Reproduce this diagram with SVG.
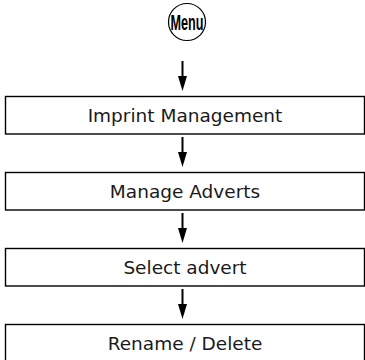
<svg xmlns="http://www.w3.org/2000/svg" width="365" height="360" viewBox="0 0 365 360">
<defs>
<style>
.box{fill:#fff;stroke:#000;stroke-width:1.4}
.lbl{font-family:"DejaVu Sans",sans-serif;font-size:18.5px;fill:#1a1a1a;text-anchor:middle}
.conn line{stroke:#000;stroke-width:2}
.conn path{fill:#000}
.menu{font-family:"Liberation Sans",Arial,sans-serif;font-weight:bold;font-size:22px;fill:#000;text-anchor:middle}
</style>
</defs>
<rect width="365" height="360" fill="#fff"/>
<g id="menu">
<circle cx="187" cy="22" r="18.5" fill="#fff" stroke="#000" stroke-width="1.2"/>
<text class="menu" x="187" y="30" textLength="33" lengthAdjust="spacingAndGlyphs">Menu</text>
</g>
<g class="conn" id="connectors">
<line x1="182.5" y1="61" x2="182.5" y2="78"/>
<path d="M178,76 L187,76 L182.5,91 Z"/>
<line x1="182.5" y1="137" x2="182.5" y2="154"/>
<path d="M178,152 L187,152 L182.5,167 Z"/>
<line x1="182.5" y1="213" x2="182.5" y2="230"/>
<path d="M178,228 L187,228 L182.5,243 Z"/>
<line x1="182.5" y1="289" x2="182.5" y2="306"/>
<path d="M178,304 L187,304 L182.5,319 Z"/>
</g>
<g id="imprint">
<rect class="box" x="5.5" y="96.5" width="359" height="37.5"/>
<text class="lbl" x="185" y="122">Imprint Management</text>
</g>
<g id="manage">
<rect class="box" x="5.5" y="172.5" width="359" height="37.5"/>
<text class="lbl" x="185" y="198">Manage Adverts</text>
</g>
<g id="select">
<rect class="box" x="5.5" y="248.5" width="359" height="37.5"/>
<text class="lbl" x="185" y="274">Select advert</text>
</g>
<g id="rename">
<rect class="box" x="5.5" y="324.5" width="359" height="37.5"/>
<text class="lbl" x="185" y="350">Rename / Delete</text>
</g>
</svg>
